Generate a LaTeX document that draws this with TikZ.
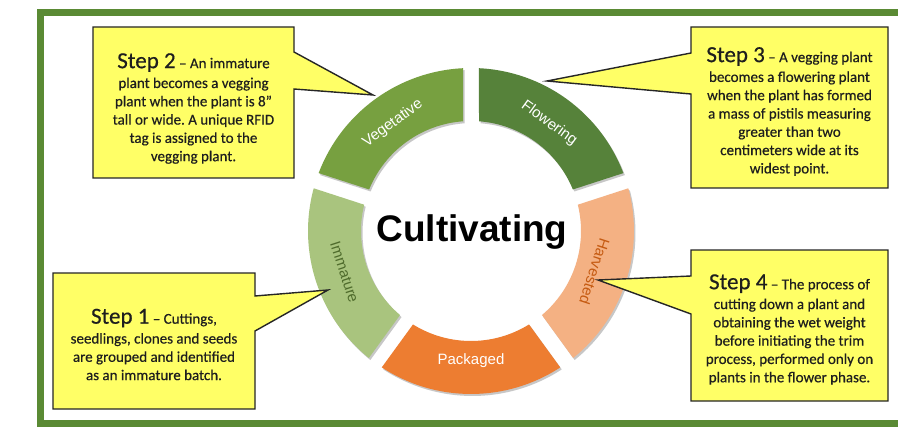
\documentclass[tikz,border=0pt]{standalone}
\usepackage{fontspec}
\setmainfont{Carlito}
\newfontfamily\calloutf[FakeBold=0.45]{Carlito}
\newfontfamily\arialf{Liberation Sans}
\definecolor{frameg}{HTML}{5A8A34}
\definecolor{vegc}{HTML}{77A040}
\definecolor{flowc}{HTML}{56823A}
\definecolor{immc}{HTML}{A9C47E}
\definecolor{harvc}{HTML}{F4B183}
\definecolor{packc}{HTML}{ED7D31}
\definecolor{callc}{HTML}{FFFF66}
\definecolor{immtext}{HTML}{4F6B2C}
\definecolor{harvtext}{HTML}{C55A11}
\definecolor{txt}{HTML}{1E1E1E}
\frenchspacing
\newcommand\ringseg[2]{%
  \fill[#2] ({471+163*cos(#1-33.19)},{201+163*sin(#1-33.19)})
    arc[start angle={#1-33.19}, end angle={#1+33.19}, radius=163]
    -- ({471+110*cos(#1+31.83)},{201+110*sin(#1+31.83)})
    arc[start angle={#1+31.83}, end angle={#1-31.83}, radius=110] -- cycle;}
\begin{document}
\begin{tikzpicture}[x=1pt,y=1pt,
  callout/.style={fill=callc, draw=black!85, line width=1.4pt, line join=miter},
  steptext/.style={align=center, text=txt, inner sep=0pt,
    font=\calloutf\fontsize{15}{18.3}\selectfont},
  seglabel/.style={font=\arialf\fontsize{15}{18}\selectfont, inner sep=0pt}]
\useasboundingbox (0,0) rectangle (898,432);
\fill[white] (0,0) rectangle (898,432);
% frame
\draw[frameg, line width=7pt] (905,419) -- (40,419) -- (40,9) -- (905,9);
% ring shadows
\begin{scope}[shift={(1.5,-2)}]
  \foreach \a in {126,54,198,342,270} {\ringseg{\a}{black!22}}
\end{scope}
% ring segments
\ringseg{126}{vegc}
\ringseg{54}{flowc}
\ringseg{198}{immc}
\ringseg{342}{harvc}
\ringseg{270}{packc}
% labels
\node[seglabel, text=white, rotate=36] (veg) at ({471+133*cos(126)},{201+133*sin(126)}) {Vegetative};
\node[seglabel, text=white, rotate=-36] (flow) at ({471+133*cos(54)},{201+133*sin(54)}) {Flowering};
\node[seglabel, text=immtext, rotate=-72] (imm) at ({471+133*cos(198)},{201+133*sin(198)}) {Immature};
\node[seglabel, text=harvtext, rotate=-108] (harv) at ({471+130*cos(342)},{201+130*sin(342)}) {Harvested};
\node[seglabel, text=white] (pack) at ({471+130*cos(270)},{201+130*sin(270)}) {Packaged};
% centre title
\node[anchor=base, inner sep=0pt, font=\arialf\bfseries\fontsize{37}{40}\selectfont] (title) at (472,190) {Cultivating};
% callout tips
\coordinate (tip2) at (373,337);
\coordinate (tip3) at (547,351);
\coordinate (tip1) at (328,142);
\coordinate (tip4) at (598,152);
% callouts
\draw[callout] (93,405) -- (294,405) -- (294,380) -- (tip2) -- (294,343) -- (294,254) -- (93,254) -- cycle;
\draw[callout] (691,405) -- (888,405) -- (888,244) -- (691,244) -- (691,338) -- (tip3) -- (691,379) -- cycle;
\draw[callout] (53,159) -- (255,159) -- (255,136) -- (tip1) -- (255,101) -- (255,23) -- (53,23) -- cycle;
\draw[callout] (691,182) -- (888,182) -- (888,31) -- (691,31) -- (691,118) -- (tip4) -- (691,156) -- cycle;
% callout texts
\node[steptext] (s2) at (193.5,323.5) {{\fontsize{23}{24}\selectfont Step 2} – An immature\\[1.5pt]
plant becomes a vegging\\ plant when the plant is 8”\\ tall or wide. A unique RFID\\ tag is assigned to the\\ vegging plant.};
\node[steptext] (s3) at (789.5,320.5) {{\fontsize{23}{24}\selectfont Step 3} – A vegging plant\\[1.5pt]
becomes a flowering plant\\ when the plant has formed\\ a mass of pistils measuring\\ greater than two\\ centimeters wide at its\\ widest point.};
\node[steptext] (s1) at (154,87.5) {{\fontsize{23}{24}\selectfont Step 1} – Cuttings,\\[1.5pt]
seedlings, clones and seeds\\ are grouped and identified\\ as an immature batch.};
\node[steptext] (s4) at (789.5,102.5) {{\fontsize{23}{24}\selectfont Step 4} – The process of\\[1.5pt]
cutting down a plant and\\ obtaining the wet weight\\ before initiating the trim\\ process, performed only on\\ plants in the flower phase.};
\end{tikzpicture}
\end{document}
